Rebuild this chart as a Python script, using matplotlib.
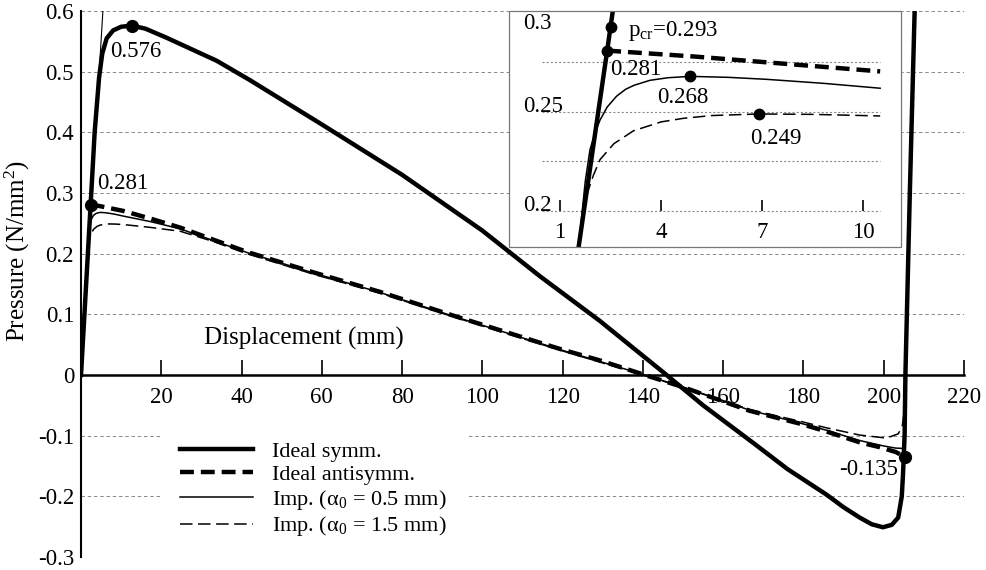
import numpy as np
import matplotlib.pyplot as plt
from matplotlib.patches import Rectangle

plt.rcParams['font.family'] = ['Liberation Serif', 'DejaVu Serif']
plt.rcParams['mathtext.fontset'] = 'custom'
plt.rcParams['mathtext.rm'] = 'Liberation Serif'
plt.rcParams['mathtext.it'] = 'Liberation Serif:italic'
plt.rcParams['axes.unicode_minus'] = False
plt.rcParams['lines.scale_dashes'] = False

# ideal symmetric path
symm_x = [0, 2.4, 2.5, 3.4, 4.5, 5.3, 6.4, 8, 10, 12.6, 16, 21.3, 33.8, 42.1, 60, 80, 100,
          114.3, 129.3, 145.9, 155, 167.9, 176, 185.7, 190, 194, 197, 199.8, 202, 203.6,
          204.5, 204.8, 205.2, 205.4, 206.5, 207.7]
symm_y = [0, 0.281, 0.293, 0.40, 0.49, 0.53, 0.555, 0.568, 0.574, 0.576, 0.571, 0.556, 0.518,
          0.486, 0.413, 0.330, 0.238, 0.163, 0.089, 0.0, -0.05, -0.114, -0.155, -0.197,
          -0.218, -0.235, -0.246, -0.251, -0.247, -0.235, -0.2, -0.164, -0.1, 0.0, 0.3, 0.6]

# ideal antisymmetric path
anti_x = [2.4, 5, 10.5, 17.2, 24.7, 41.3, 58, 74.5, 92.7, 119.3, 129.3, 140.5, 150, 166.6,
          179, 185.7, 194, 199, 203, 205.3]
anti_y = [0.281, 0.278, 0.2705, 0.258, 0.243, 0.203, 0.169, 0.137, 0.098, 0.043, 0.024, 0.0,
          -0.02, -0.059, -0.08, -0.093, -0.111, -0.119, -0.127, -0.135]

# imperfect, a0 = 0.5 mm
imp05_x = [0, 1.6, 1.75, 1.89, 2.05, 2.19, 2.4, 2.68, 2.95, 3.2, 3.67, 4.2, 4.86, 6.0, 7.13,
           8.8, 10.5, 17.2, 24.7, 41.3, 58, 74.5, 92.7, 119.3, 140.5, 150, 166.6, 179, 185.7,
           194, 200, 203, 204.7, 205.3, 205.4]
imp05_y = [0, 0.19, 0.215, 0.231, 0.240, 0.246, 0.2525, 0.258, 0.2615, 0.2635, 0.266, 0.2673,
           0.268, 0.2675, 0.2665, 0.2645, 0.262, 0.253, 0.241, 0.202, 0.168, 0.136, 0.097,
           0.042, 0.0, -0.02, -0.058, -0.079, -0.091, -0.108, -0.117, -0.1205, -0.121, -0.11,
           -0.05]

# imperfect, a0 = 1.5 mm
imp15_x = [0, 1.6, 1.69, 1.79, 1.99, 2.19, 2.6, 3.18, 4.0, 4.66, 5.5, 6.9, 8.5, 10.5, 16.4,
           24.7, 33, 41.3, 58, 74.5, 92.7, 119.3, 140.5, 150, 166.6, 179, 185.7, 194, 200.7,
           203.6, 204.6, 205.0, 205.3]
imp15_y = [0, 0.19, 0.2, 0.208, 0.218, 0.226, 0.234, 0.2405, 0.245, 0.2468, 0.2482, 0.249,
           0.2488, 0.248, 0.244, 0.237, 0.22, 0.2, 0.166, 0.135, 0.096, 0.041, -0.001, -0.02,
           -0.057, -0.076, -0.087, -0.099, -0.104, -0.097, -0.085, -0.065, -0.04]

# linear prebuckling line
lin_x = [0, 5.45]
lin_y = [0, 0.6]

main_mark_x = [12.6, 2.4, 205.3]
main_mark_y = [0.576, 0.281, -0.135]
ins_mark_x = [2.5, 2.4, 4.86, 6.9]
ins_mark_y = [0.293, 0.281, 0.268, 0.249]

main_xticks = list(range(20, 221, 20))
main_yticks = [-0.3, -0.2, -0.1, 0, 0.1, 0.2, 0.3, 0.4, 0.5, 0.6]
ins_xticks = [1, 4, 7, 10]
ins_yticks = [0.2, 0.25, 0.3]
ins_grid = [0.2, 0.225, 0.25, 0.275]
ins_xmax = 10.5

labels = ['Ideal symm.', 'Ideal antisymm.', 'Imp. (α$_0$ = 0.5 mm)', 'Imp. (α$_0$ = 1.5 mm)']

thick = 3.2
thin = 1.1
dash_thick = (0, (10, 5))
dash_thin = (0, (9, 4))

fig = plt.figure(figsize=(9.87, 5.70), dpi=100)
ax = fig.add_axes([0.08207, 0.02281, 0.89463, 0.95789])

ax.plot(lin_x, lin_y, color='black', lw=0.8)
h1, = ax.plot(symm_x, symm_y, color='black', lw=thick, label=labels[0])
h2, = ax.plot(anti_x, anti_y, color='black', lw=thick, ls=dash_thick, label=labels[1])
h3, = ax.plot(imp05_x, imp05_y, color='black', lw=thin, label=labels[2])
h4, = ax.plot(imp15_x, imp15_y, color='black', lw=thin, ls=dash_thin, label=labels[3])
ax.plot(main_mark_x, main_mark_y, 'o', color='black', ms=8.5, zorder=4)

ax.text(7.2, 0.533, '0.576', fontsize=16.5, ha='left', va='center')
ax.text(4.0, 0.316, '0.281', fontsize=16.5, ha='left', va='center')
ax.text(203.5, -0.156, '-0.135', fontsize=16.5, ha='right', va='center')
ax.text(30.6, 0.060, 'Displacement (mm)', fontsize=18, ha='left', va='center')

ax.set_xlim(0, 220)
ax.set_ylim(-0.3, 0.6)
ax.set_xticks(main_xticks)
ax.set_yticks(main_yticks)
ax.set_yticklabels(['%g' % v for v in main_yticks])
ax.grid(axis='y', ls=(0, (2.5, 2)), color='#888888', lw=0.7)
ax.spines['top'].set_visible(False)
ax.spines['right'].set_visible(False)
ax.spines['bottom'].set_position(('data', 0))
ax.spines['bottom'].set_linewidth(1.8)
ax.spines['left'].set_linewidth(1.5)
ax.tick_params(axis='x', direction='in', length=11, width=1.2, pad=9, labelsize=16.5)
ax.tick_params(axis='y', length=0, pad=5, labelsize=16.5)
ax.set_ylabel('Pressure (N/mm$^2$)', fontsize=18)
ax.yaxis.set_label_coords(-0.0555, 0.561)

leg = ax.legend(handles=[h1, h2, h3, h4], loc='upper left', bbox_to_anchor=(0.0895, 0.2486),
                frameon=True, facecolor='white', edgecolor='none', framealpha=1,
                fancybox=False, handlelength=3.3, handletextpad=0.85, labelspacing=0.12,
                borderpad=0.9, fontsize=16, borderaxespad=0)

# inset
axin = fig.add_axes([0.5157, 0.5667, 0.3972, 0.4140])
axin.set_facecolor('white')
for s in axin.spines.values():
    s.set_visible(False)
axin.spines['bottom'].set_position(('data', 0.2))
axin.add_patch(Rectangle((0, 0), 1, 1, transform=axin.transAxes, fill=False,
                         edgecolor='#777777', lw=0.9, clip_on=False, zorder=5))
axin.hlines(ins_grid, 0.47, ins_xmax, color='#888888', lw=0.8, ls=(0, (1.5, 1.5)))

for xs, ys, lw, ls in [(symm_x, symm_y, thick, '-'), (anti_x, anti_y, thick, dash_thick),
                       (imp05_x, imp05_y, thin, '-'), (imp15_x, imp15_y, thin, dash_thin)]:
    xs = np.array(xs)
    ys = np.array(ys)
    keep = xs <= ins_xmax
    axin.plot(xs[keep], ys[keep], color='black', lw=lw, ls=ls)
axin.plot(ins_mark_x, ins_mark_y, 'o', color='black', ms=7.5, zorder=4)

axin.text(3.02, 0.2909, 'p$_{\\mathrm{cr}}$=0.293', fontsize=16.5, ha='left', va='center')
axin.text(2.48, 0.2715, '0.281', fontsize=16.5, ha='left', va='center')
axin.text(3.88, 0.2571, '0.268', fontsize=16.5, ha='left', va='center')
axin.text(6.64, 0.2364, '0.249', fontsize=16.5, ha='left', va='center')

axin.set_xlim(-0.513, 11.119)
axin.set_ylim(0.18182, 0.30101)
axin.set_xticks(ins_xticks)
axin.set_yticks(ins_yticks)
axin.set_yticklabels(['%g' % v for v in ins_yticks])
axin.tick_params(axis='x', direction='in', length=8, width=1.2, pad=8, labelsize=16.5)
axin.tick_params(axis='y', length=0, pad=-10, labelsize=16.5)
for lab in axin.get_yticklabels():
    lab.set_ha('left')
    lab.set_va('baseline')
axin.get_yticklabels()[-1].set_va('top')

fig.savefig('out.png', dpi=100)
